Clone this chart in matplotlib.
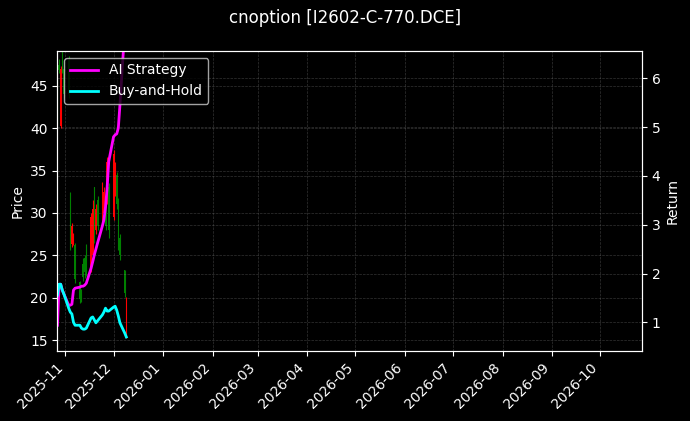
import matplotlib
matplotlib.use("Agg")
import matplotlib.pyplot as plt
import matplotlib.dates as mdates
import pandas as pd

# trading days shown in the chart
dates = pd.to_datetime([
    "2025-10-27", "2025-10-28", "2025-10-29", "2025-10-30", "2025-10-31",
    "2025-11-03", "2025-11-04", "2025-11-05", "2025-11-06", "2025-11-07",
    "2025-11-10", "2025-11-11", "2025-11-12", "2025-11-13", "2025-11-14",
    "2025-11-17", "2025-11-18", "2025-11-19", "2025-11-20", "2025-11-21",
    "2025-11-24", "2025-11-25", "2025-11-26", "2025-11-27", "2025-11-28",
    "2025-12-01", "2025-12-02", "2025-12-03", "2025-12-04", "2025-12-05",
    "2025-12-08", "2025-12-09",
])

opens = [44.0, 47.5, 40.3, 49.0, 47.0, 48.0, 32.3, 26.3, 26.8, 26.2,
         21.8, 20.9, 24.0, 24.7, 26.0, 23.3, 25.0, 33.0, 28.0, 31.5,
         29.0, 30.0, 32.0, 31.1, 33.0, 29.5, 33.0, 34.5, 31.5, 27.0,
         23.3, 15.5]
highs = [46.0, 48.2, 47.3, 49.7, 48.0, 48.5, 32.5, 28.8, 27.6, 26.4,
         22.0, 21.0, 24.7, 25.0, 26.3, 30.0, 31.5, 33.1, 31.0, 32.0,
         33.7, 33.0, 32.5, 36.6, 33.5, 37.4, 36.0, 34.8, 31.8, 27.5,
         23.3, 20.1]
lows = [40.5, 46.5, 40.0, 46.5, 43.5, 43.5, 25.6, 26.0, 26.2, 21.7,
        19.4, 19.5, 22.0, 22.3, 22.5, 23.0, 24.5, 26.5, 27.5, 28.0,
        28.8, 29.5, 28.0, 31.0, 27.0, 29.2, 32.0, 30.5, 25.6, 24.5,
        20.1, 15.2]
closes = [41.0, 46.8, 47.0, 47.3, 44.0, 44.0, 26.5, 28.5, 27.4, 22.2,
          19.8, 19.8, 22.4, 23.0, 23.0, 29.5, 30.5, 27.0, 30.5, 28.5,
          33.0, 32.5, 28.5, 36.0, 28.0, 37.0, 35.5, 31.0, 26.5, 25.0,
          20.5, 19.8]

ai_strategy = [0.94, 1.78, 1.78, 1.66, 1.58, 1.35, 1.35, 1.37, 1.66, 1.70,
               1.72, 1.74, 1.74, 1.76, 1.80, 2.11, 2.24, 2.38, 2.50, 2.62,
               2.97, 3.10, 3.36, 3.75, 4.29, 4.80, 4.84, 4.86, 4.98, 5.45,
               7.00, 7.10]
buy_hold = [1.56, 1.78, 1.78, 1.66, 1.58, 1.29, 1.21, 1.17, 1.00, 0.94,
            0.94, 0.88, 0.86, 0.86, 0.88, 1.09, 1.11, 1.05, 0.99, 1.03,
            1.15, 1.21, 1.29, 1.23, 1.23, 1.31, 1.33, 1.25, 1.13, 0.99,
            0.78, 0.70]

plt.style.use("dark_background")
fig = plt.figure(figsize=(6.9, 4.21), dpi=100)
ax = fig.add_axes([0.0833, 0.166, 0.847, 0.713])

colors = ["red" if c >= o else "green" for o, c in zip(opens, closes)]
ax.vlines(dates, lows, highs, colors=colors, linewidth=0.8)
bottoms = [min(o, c) for o, c in zip(opens, closes)]
heights = [abs(c - o) for o, c in zip(opens, closes)]
ax.bar(dates, heights, bottom=bottoms, width=0.8, color=colors)

ax.set_ylabel("Price")
ax.set_ylim(13.7, 49.1)
ax.grid(True, linestyle="--", linewidth=0.5, color="gray", alpha=0.4)

ax2 = ax.twinx()
ax2.plot(dates, ai_strategy, color="#ff00ff", linewidth=2, label="AI Strategy")
ax2.plot(dates, buy_hold, color="cyan", linewidth=2, label="Buy-and-Hold")
ax2.set_ylabel("Return")
ax2.set_ylim(0.41, 6.56)
ax2.grid(True, linestyle="--", linewidth=0.5, color="gray", alpha=0.4)
ax2.legend(loc="upper left")

ax.set_xlim(dates[0], dates[0] + pd.Timedelta(days=365))
ax.xaxis.set_major_locator(mdates.MonthLocator())
ax.xaxis.set_major_formatter(mdates.DateFormatter("%Y-%m"))
plt.setp(ax.get_xticklabels(), rotation=45, ha="right")

fig.suptitle("cnoption [I2602-C-770.DCE]", y=0.978)
fig.savefig("out.png", dpi=100)
